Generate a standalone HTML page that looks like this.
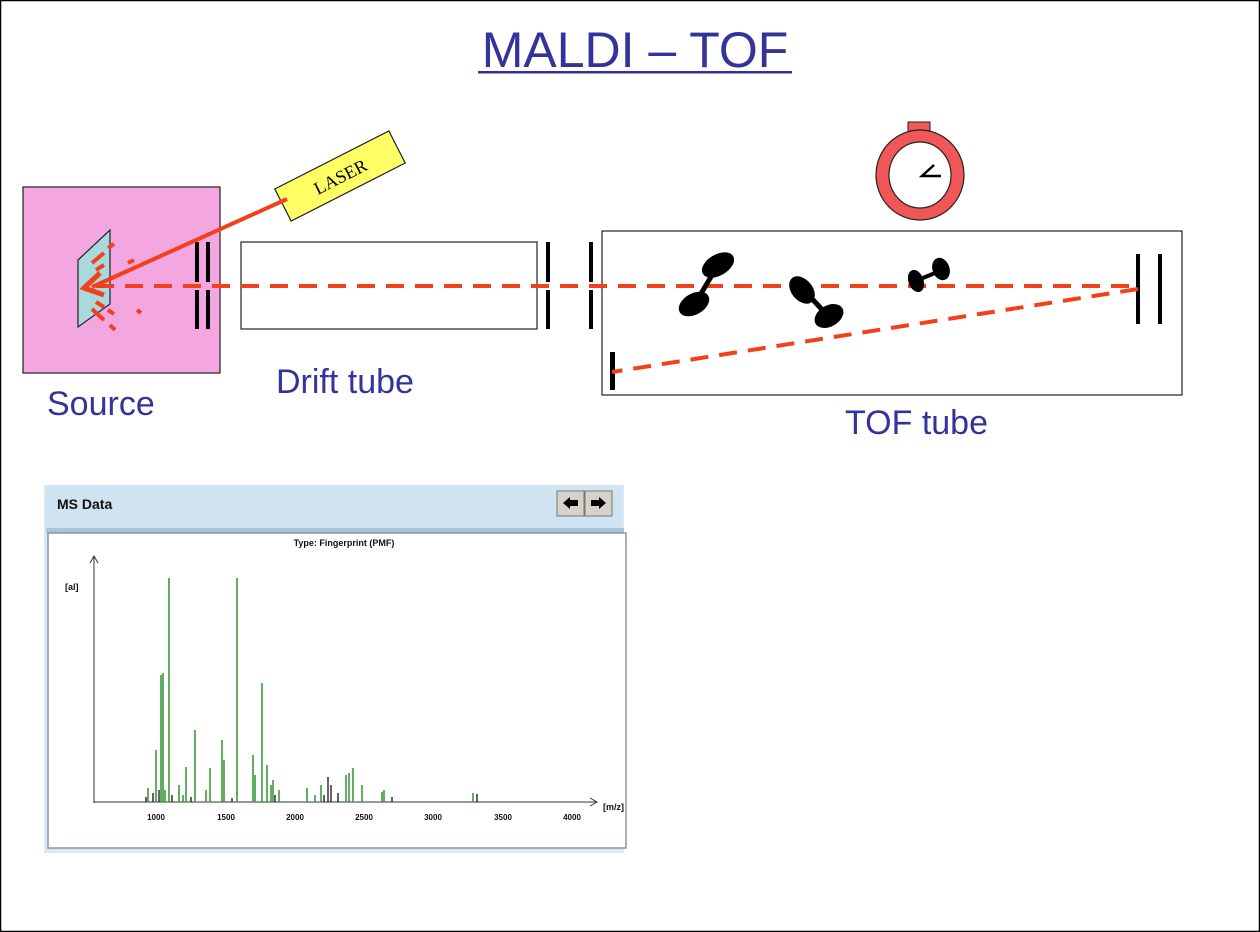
<!DOCTYPE html>
<html><head><meta charset="utf-8"><style>
html,body{margin:0;padding:0;background:#fff}
body{width:1260px;height:932px;position:relative;overflow:hidden;font-family:"Liberation Sans",sans-serif}
</style></head><body>
<svg width="1260" height="932" viewBox="0 0 1260 932" xmlns="http://www.w3.org/2000/svg" style="position:absolute;left:0;top:0">
<rect x="0.5" y="0.5" width="1259" height="931" fill="#fff" stroke="#000" stroke-width="1.5"/>
<text x="635" y="67" text-anchor="middle" font-family="Liberation Sans" font-size="50" fill="#333399">MALDI – TOF</text>
<rect x="478" y="71" width="314" height="2.5" fill="#333399"/>
<rect x="23" y="187" width="197" height="186" fill="#f4a6e0" stroke="#222" stroke-width="1.2"/>
<polygon points="78,260 110,230 110,304 78,327" fill="#a9d9dc" stroke="#222" stroke-width="1.2"/>
<g stroke="#f2401b" stroke-width="4">
<line x1="92" y1="263" x2="104" y2="253"/><line x1="108" y1="248" x2="114" y2="244"/>
<line x1="96" y1="270" x2="104" y2="265"/>
<line x1="96" y1="302" x2="104" y2="307"/><line x1="108" y1="310" x2="114" y2="314"/>
<line x1="92" y1="309" x2="104" y2="320"/><line x1="110" y1="325" x2="115" y2="330"/>
<line x1="128" y1="263" x2="134" y2="260" /><line x1="137" y1="310" x2="141" y2="313"/>
</g>
<rect x="195" y="242" width="4" height="40" fill="#000"/><rect x="206" y="242" width="4" height="40" fill="#000"/>
<rect x="195" y="290" width="4" height="39" fill="#000"/><rect x="206" y="290" width="4" height="39" fill="#000"/>
<g transform="translate(340,176) rotate(-27)">
<rect x="-64" y="-18" width="128" height="36" fill="#ffff66" stroke="#222" stroke-width="1.2"/>
<text x="0" y="7" text-anchor="middle" font-family="Liberation Serif" font-size="18">LASER</text>
</g>
<line x1="287" y1="199" x2="92" y2="287" stroke="#f2401b" stroke-width="4"/>
<polyline points="100,273 84,288 104,295" fill="none" stroke="#f2401b" stroke-width="5"/>
<rect x="241" y="242" width="296" height="87" fill="none" stroke="#222" stroke-width="1.2"/>
<rect x="546" y="242" width="4" height="40" fill="#000"/><rect x="589" y="242" width="4" height="40" fill="#000"/>
<rect x="546" y="290" width="4" height="39" fill="#000"/><rect x="589" y="290" width="4" height="39" fill="#000"/>
<rect x="602" y="231" width="580" height="164" fill="none" stroke="#222" stroke-width="1.2"/>
<rect x="1136" y="254" width="4" height="70" fill="#000"/><rect x="1158" y="254" width="4" height="70" fill="#000"/>
<rect x="610" y="352" width="5" height="38" fill="#000"/>
<line x1="96" y1="286" x2="1138" y2="286" stroke="#f2401b" stroke-width="4" stroke-dasharray="18,11"/>
<line x1="1138" y1="289" x2="612" y2="372" stroke="#f2401b" stroke-width="4" stroke-dasharray="18,11"/>
<g fill="#000" stroke="#000">
<line x1="696" y1="302" x2="718" y2="265" stroke-width="5"/>
<ellipse cx="718" cy="265" rx="17" ry="10" transform="rotate(-30 718 265)"/>
<ellipse cx="694" cy="304" rx="16" ry="10" transform="rotate(-30 694 304)"/>
<line x1="803" y1="289" x2="828" y2="316" stroke-width="5"/>
<ellipse cx="802" cy="290" rx="15" ry="10" transform="rotate(50 802 290)"/>
<ellipse cx="829" cy="316" rx="15" ry="10" transform="rotate(-30 829 316)"/>
<line x1="918" y1="280" x2="940" y2="271" stroke-width="4"/>
<ellipse cx="916" cy="281" rx="7" ry="11" transform="rotate(-20 916 281)"/>
<ellipse cx="941" cy="269" rx="8" ry="11" transform="rotate(-20 941 269)"/>
</g>
<rect x="908" y="122" width="22" height="12" fill="#f25757" stroke="#222" stroke-width="1"/>
<ellipse cx="920" cy="175" rx="44" ry="45" fill="#f25757" stroke="#222" stroke-width="1.2"/>
<ellipse cx="920" cy="175" rx="31" ry="33" fill="#fff" stroke="#222" stroke-width="1.2"/>
<polyline points="934,165 922,176 941,176" fill="none" stroke="#000" stroke-width="2.5"/>
<text x="47" y="415" font-size="34" fill="#333399">Source</text>
<text x="276" y="393" font-size="34" fill="#333399">Drift tube</text>
<text x="845" y="434" font-size="34" fill="#333399">TOF tube</text>
<rect x="44" y="485" width="580" height="368" fill="#d9e8f3"/>
<rect x="46" y="486" width="576" height="42" fill="#cfe3f1"/>
<rect x="46" y="528" width="578" height="5" fill="#a8c4dd"/>
<rect x="48" y="533" width="578" height="315" fill="#fff" stroke="#8a96a3" stroke-width="1.5"/>
<text x="57" y="509" font-size="14" font-weight="bold" fill="#111">MS Data</text>
<rect x="557" y="491" width="27" height="25" fill="#d6d2ca" stroke="#777"/>
<rect x="585" y="491" width="27" height="25" fill="#d6d2ca" stroke="#777"/>
<polygon points="563,503 570,497 570,500 578,500 578,506 570,506 570,509" fill="#000"/>
<polygon points="606,503 599,497 599,500 591,500 591,506 599,506 599,509" fill="#000"/>
<text x="344" y="546" font-size="9" font-weight="bold" text-anchor="middle" fill="#111">Type: Fingerprint (PMF)</text>
<text x="65" y="590" font-size="9" font-weight="bold" fill="#111">[al]</text>
<g stroke="#333" stroke-width="1" fill="none">
<line x1="94" y1="556" x2="94" y2="803"/><polyline points="90,563 94,556 98,563"/>
<line x1="94" y1="802" x2="596" y2="802"/><polyline points="590,798 597,802 590,806"/>
</g>
<text x="603" y="810" font-size="9" font-weight="bold" fill="#111">[m/z]</text>
<g font-size="8" font-weight="bold" fill="#111" text-anchor="middle">
<text x="156" y="820">1000</text><text x="226" y="820">1500</text><text x="295" y="820">2000</text><text x="364" y="820">2500</text><text x="433" y="820">3000</text><text x="503" y="820">3500</text><text x="572" y="820">4000</text>
</g>
<g stroke="#3a9a3a" stroke-width="1.6">
<line x1="169" y1="802" x2="169" y2="578"/><line x1="237" y1="802" x2="237" y2="578"/>
<line x1="161" y1="802" x2="161" y2="675"/><line x1="163" y1="802" x2="163" y2="673"/>
<line x1="156" y1="802" x2="156" y2="750"/><line x1="262" y1="802" x2="262" y2="683"/>
<line x1="195" y1="802" x2="195" y2="730"/><line x1="222" y1="802" x2="222" y2="740"/>
<line x1="186" y1="802" x2="186" y2="767"/><line x1="210" y1="802" x2="210" y2="768"/>
<line x1="253" y1="802" x2="253" y2="755"/><line x1="255" y1="802" x2="255" y2="775"/>
<line x1="267" y1="802" x2="267" y2="765"/><line x1="224" y1="802" x2="224" y2="760"/>
<line x1="148" y1="802" x2="148" y2="788"/><line x1="179" y1="802" x2="179" y2="785"/>
<line x1="183" y1="802" x2="183" y2="795"/><line x1="206" y1="802" x2="206" y2="790"/>
<line x1="271" y1="802" x2="271" y2="785"/><line x1="273" y1="802" x2="273" y2="780"/>
<line x1="279" y1="802" x2="279" y2="790"/><line x1="307" y1="802" x2="307" y2="788"/>
<line x1="315" y1="802" x2="315" y2="795"/><line x1="321" y1="802" x2="321" y2="785"/>
<line x1="346" y1="802" x2="346" y2="775"/><line x1="349" y1="802" x2="349" y2="773"/>
<line x1="353" y1="802" x2="353" y2="768"/><line x1="362" y1="802" x2="362" y2="785"/>
<line x1="382" y1="802" x2="382" y2="792"/><line x1="384" y1="802" x2="384" y2="790"/>
<line x1="473" y1="802" x2="473" y2="793"/><line x1="165" y1="802" x2="165" y2="790"/>
</g>
<g stroke="#222" stroke-width="1.4">
<line x1="153" y1="802" x2="153" y2="793"/><line x1="159" y1="802" x2="159" y2="790"/>
<line x1="146" y1="802" x2="146" y2="797"/><line x1="172" y1="802" x2="172" y2="795"/>
<line x1="328" y1="802" x2="328" y2="777"/><line x1="331" y1="802" x2="331" y2="785"/>
<line x1="324" y1="802" x2="324" y2="795"/><line x1="338" y1="802" x2="338" y2="793"/>
<line x1="392" y1="802" x2="392" y2="797"/><line x1="477" y1="802" x2="477" y2="794"/>
<line x1="191" y1="802" x2="191" y2="797"/><line x1="232" y1="802" x2="232" y2="798"/>
<line x1="275" y1="802" x2="275" y2="795"/>
</g>
</svg>
</body></html>
